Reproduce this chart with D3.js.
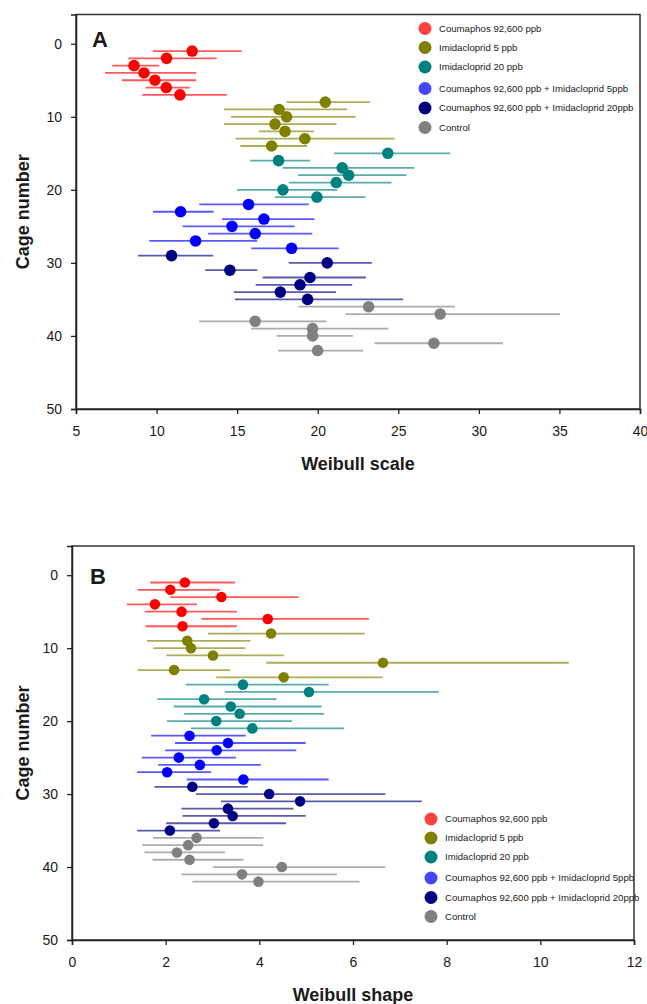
<!DOCTYPE html>
<html>
<head>
<meta charset="utf-8">
<script src="https://cdn.jsdelivr.net/npm/d3@7"></script>
<style>
  body { margin: 0; background: #fff; }
  svg { display: block; }
  text { font-family: Arial, "Liberation Sans", sans-serif; fill: #1a1a1a; }
</style>
</head>
<body>
<svg id="chart" width="647" height="1004"></svg>
<script>
// ---------- data ----------
const groups = [
  "Coumaphos 92,600 ppb",
  "Imidacloprid 5 ppb",
  "Imidacloprid 20 ppb",
  "Coumaphos 92,600 ppb + Imidacloprid 5ppb",
  "Coumaphos 92,600 ppb + Imidacloprid 20ppb",
  "Control"
];
const groupColors = ["#ff0000", "#808000", "#008080", "#0000ff", "#000080", "#808080"];
const legendColors = ["#ff4040", "#808000", "#008080", "#4545ff", "#000080", "#808080"];

// cage numbers (y) and group index of each cage
const cages = d3.range(1, 43);
const cageGroup = [0,0,0,0,0,0,0, 1,1,1,1,1,1,1, 2,2,2,2,2,2,2, 3,3,3,3,3,3,3, 4,4,4,4,4,4,4, 5,5,5,5,5,5,5];

// Panel A: Weibull scale (estimate, lower, upper)
const scaleEst = [12.21,10.62,8.6,9.22,9.9,10.6,11.45, 20.47,17.6,18.07,17.35,17.97,19.2,17.14, 24.35,17.57,21.52,21.92,21.15,17.84,19.95, 15.71,11.49,16.66,14.68,16.12,12.42,18.38, 10.93,20.59,14.55,19.52,18.9,17.68,19.37, 23.16,27.6,16.12,19.68,19.68,27.21,19.99];
const scaleLo  = [9.76,8.25,7.25,6.8,7.85,9.32,9.1, 18.07,14.18,14.62,14.18,16.35,14.9,15.2, 21.02,15.81,17.84,18.79,18.21,14.99,17.34, 12.65,9.78,14.06,11.62,13.2,9.55,15.88, 8.85,18.2,13.02,16.58,16.15,14.8,14.86, 18.79,21.71,12.65,15.86,17.45,23.53,17.53];
const scaleHi  = [15.28,13.73,10.17,12.46,12.46,12.05,14.35, 23.24,21.83,22.35,21.17,19.76,24.77,19.35, 28.22,19.54,25.99,25.51,24.58,21.21,22.97, 19.45,13.54,19.8,18.57,19.66,16.25,21.3, 13.52,23.36,16.25,22.99,22.14,21.13,25.3, 28.51,35.04,20.55,24.38,22.18,31.49,22.82];

// Panel B: Weibull shape (estimate, lower, upper)
const shapeEst = [2.41,2.1,3.19,1.77,2.34,4.18,2.36, 4.25,2.46,2.54,3.01,6.64,2.18,4.52, 3.65,5.06,2.82,3.39,3.58,3.08,3.85, 2.51,3.33,3.09,2.28,2.73,2.03,3.66, 2.57,4.21,4.87,3.33,3.43,3.03,2.09, 2.66,2.48,2.24,2.51,4.48,3.63,3.98];
const shapeLo  = [1.67,1.4,2.1,1.17,1.55,2.76,1.57, 2.9,1.6,1.74,2.01,4.15,1.4,3.08, 2.43,3.26,1.82,2.17,2.39,2.03,2.54, 1.69,2.2,1.99,1.49,1.84,1.39,2.45, 1.76,2.65,3.18,2.34,2.36,2.01,1.39, 1.73,1.5,1.55,1.72,3.01,2.34,2.57];
const shapeHi  = [3.48,3.16,4.84,2.67,3.52,6.34,3.52, 6.25,3.81,3.7,4.53,10.61,3.38,6.63, 5.48,7.83,4.37,5.33,5.38,4.7,5.81, 3.71,4.99,4.79,3.5,4.03,2.97,5.48, 3.75,6.69,7.47,4.73,4.99,4.57,3.16, 4.09,4.08,3.27,3.66,6.69,5.66,6.14];

const yTicks = [0, 10, 20, 30, 40, 50];
const xTicksA = [5, 10, 15, 20, 25, 30, 35, 40];
const xTicksB = [0, 2, 4, 6, 8, 10, 12];

// ---------- drawing ----------
const svg = d3.select("#chart");

function panel(cfg) {
  const x = d3.scaleLinear().domain(cfg.xDomain).range([cfg.left, cfg.right]);
  const y = d3.scaleLinear().domain([-4, 50]).range([cfg.top, cfg.bottom]);
  const g = svg.append("g");

  // frame
  g.append("rect")
    .attr("x", cfg.left).attr("y", cfg.top)
    .attr("width", cfg.right - cfg.left).attr("height", cfg.bottom - cfg.top)
    .attr("fill", "none").attr("stroke", "#333").attr("stroke-width", 1.5);

  // axes
  const xa = g.append("g").attr("transform", `translate(0,${cfg.bottom})`)
    .call(d3.axisBottom(x).tickValues(cfg.xTicks).tickSize(5).tickPadding(12).tickFormat(d3.format("d")));
  const ya = g.append("g").attr("transform", `translate(${cfg.left},0)`)
    .call(d3.axisLeft(y).tickValues(yTicks).tickSize(5).tickPadding(9).tickFormat(d3.format("d")));
  [xa, ya].forEach(a => {
    a.select(".domain").attr("stroke", "#222").attr("stroke-width", 1.5);
    a.selectAll(".tick line").attr("stroke", "#222").attr("stroke-width", 1.3);
    a.selectAll(".tick text").attr("font-size", 14).attr("fill", "#1a1a1a")
      .attr("font-family", "Arial, 'Liberation Sans', sans-serif");
  });

  // error bars and points
  cages.forEach((c, i) => {
    const col = groupColors[cageGroup[i]];
    g.append("line")
      .attr("x1", x(cfg.lo[i])).attr("x2", x(cfg.hi[i]))
      .attr("y1", y(c)).attr("y2", y(c))
      .attr("stroke", col).attr("stroke-opacity", 0.65).attr("stroke-width", 1.8);
  });
  cages.forEach((c, i) => {
    const col = groupColors[cageGroup[i]];
    g.append("circle")
      .attr("cx", x(cfg.est[i])).attr("cy", y(c)).attr("r", cfg.r)
      .attr("fill", col);
  });

  // panel letter
  g.append("text").attr("x", cfg.letterX).attr("y", cfg.letterY)
    .attr("font-size", 22).attr("font-weight", "bold").attr("fill", "#000").text(cfg.letter);

  // axis titles
  g.append("text")
    .attr("x", (cfg.left + cfg.right) / 2).attr("y", cfg.bottom + 61)
    .attr("text-anchor", "middle").attr("font-size", 18).attr("font-weight", "bold")
    .attr("fill", "#000").text(cfg.xTitle);
  g.append("text")
    .attr("transform", `translate(29,${(cfg.top + cfg.bottom) / 2}) rotate(-90)`)
    .attr("text-anchor", "middle").attr("font-size", 18).attr("font-weight", "bold")
    .attr("fill", "#000").text("Cage number");

  // legend
  const lg = g.append("g");
  groups.forEach((name, k) => {
    const ly = cfg.legendY[k];
    lg.append("circle").attr("cx", cfg.legendX).attr("cy", ly).attr("r", 6.5)
      .attr("fill", legendColors[k]);
    lg.append("text").attr("x", cfg.legendX + 14).attr("y", ly).attr("dy", "0.35em")
      .attr("font-size", 9.6).attr("fill", "#222").text(name);
  });
}

panel({
  left: 76, right: 640, top: 14.5, bottom: 409,
  xDomain: [5, 40], xTicks: xTicksA,
  est: scaleEst, lo: scaleLo, hi: scaleHi, r: 5.8,
  letter: "A", letterX: 92, letterY: 47,
  xTitle: "Weibull scale",
  legendX: 425, legendY: [28.5, 47.5, 67, 88.5, 108, 127.5]
});

panel({
  left: 72, right: 634, top: 546, bottom: 940,
  xDomain: [0, 12], xTicks: xTicksB,
  est: shapeEst, lo: shapeLo, hi: shapeHi, r: 5.3,
  letter: "B", letterX: 90, letterY: 584,
  xTitle: "Weibull shape",
  legendX: 431, legendY: [819, 838, 857, 878, 897.5, 916.5]
});
</script>
</body>
</html>
